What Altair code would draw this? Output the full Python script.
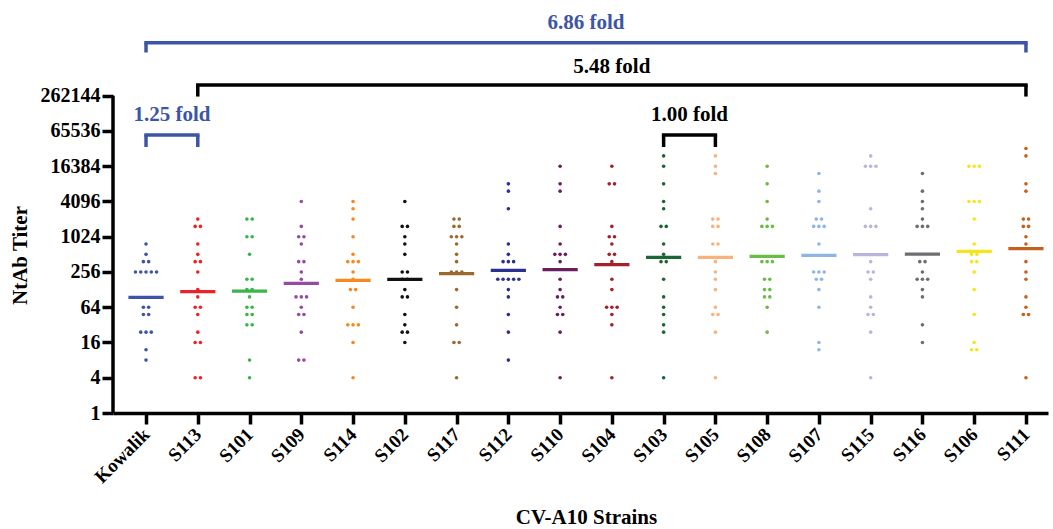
import math
import altair as alt
import pandas as pd

strains = ["Kowalik", "S113", "S101", "S109", "S114", "S102", "S117", "S112", "S110",
           "S104", "S103", "S105", "S108", "S107", "S115", "S116", "S106", "S111"]

colors = ["#3D55A6", "#EC2227", "#3BB54A", "#954B9F", "#F6891F", "#111111", "#9A6A2E",
          "#2B3090", "#6A1D5E", "#A4202A", "#1A6634", "#F7B27D", "#69BC45", "#8EB6E4",
          "#BDB4DC", "#6D6E71", "#F4E51C", "#C4611E"]

kowalik = [768, 512, 384, 384, 256, 256, 256, 256, 256, 64, 64, 48, 48, 24, 24, 24, 12, 8]
s113 = [2048, 1536, 1536, 768, 512, 384, 384, 256, 128, 96, 64, 64, 48, 24, 16, 16, 4, 4]
s101 = [2048, 2048, 1024, 1024, 512, 192, 192, 128, 128, 96, 64, 64, 48, 48, 32, 32, 8, 4]
s109 = [4096, 1536, 1024, 1024, 768, 384, 384, 256, 192, 96, 96, 96, 64, 48, 48, 24, 8, 8]
s114 = [4096, 3072, 2048, 1024, 512, 384, 384, 384, 256, 192, 128, 128, 64, 32, 32, 32, 16, 4]
s102 = [4096, 1536, 1536, 1024, 768, 512, 256, 256, 192, 192, 128, 96, 96, 48, 32, 24, 24, 16]
s117 = [2048, 2048, 1536, 1536, 1024, 1024, 1024, 768, 512, 384, 256, 256, 256, 128, 64, 32, 16, 16, 4]
s112 = [8192, 6144, 3072, 768, 512, 384, 384, 384, 192, 192, 192, 192, 192, 128, 96, 48, 24, 8]
s110 = [16384, 8192, 6144, 1536, 768, 512, 512, 512, 384, 192, 128, 96, 96, 64, 48, 48, 24, 4]
s104 = [16384, 8192, 8192, 1536, 1024, 1024, 768, 512, 512, 384, 192, 128, 64, 64, 64, 48, 32, 4]
s103 = [24576, 16384, 8192, 4096, 3072, 1536, 1536, 768, 512, 384, 384, 192, 96, 64, 48, 32, 24, 4]
s105 = [24576, 16384, 12288, 2048, 2048, 1536, 1536, 768, 768, 384, 256, 192, 128, 64, 48, 48, 24, 4]
s108 = [16384, 8192, 4096, 2048, 1536, 1536, 1536, 384, 384, 384, 192, 192, 128, 128, 96, 96, 64, 24]
s107 = [12288, 6144, 4096, 2048, 2048, 1536, 1536, 1536, 768, 256, 256, 256, 192, 192, 128, 64, 16, 12]
s115 = [24576, 16384, 16384, 16384, 3072, 1536, 1536, 1536, 384, 256, 256, 192, 96, 64, 48, 48, 24, 4]
s116 = [12288, 6144, 4096, 3072, 2048, 1536, 1536, 1536, 384, 384, 256, 192, 192, 192, 128, 96, 32, 16]
s106 = [16384, 16384, 16384, 4096, 4096, 4096, 2048, 768, 512, 512, 384, 384, 256, 128, 48, 16, 12, 12]
s111 = [32768, 24576, 8192, 6144, 2048, 2048, 1536, 1536, 1024, 768, 384, 256, 192, 96, 64, 48, 48, 4]

series = [kowalik, s113, s101, s109, s114, s102, s117, s112, s110,
          s104, s103, s105, s108, s107, s115, s116, s106, s111]

# geometric mean titers (horizontal lines)
gmt = [94, 118, 121, 163, 184, 191, 239, 273, 280, 341, 455, 455, 472, 491, 505, 518, 576, 640]

# comparisons: (from strain, to strain, label, colour, level in log2 units)
cmp_from = ["Kowalik", "S113", "Kowalik", "S103"]
cmp_to = ["S111", "S111", "S113", "S105"]
cmp_label = ["6.86 fold", "5.48 fold", "1.25 fold", "1.00 fold"]
cmp_color = ["#3D55A6", "#000000", "#3D55A6", "#000000"]
cmp_level = [21.0, 18.6, 15.77, 15.77]
cmp_leg = [0.55, 0.65, 0.68, 0.68]
cmp_text_gap = [1.12, 1.03, 1.12, 1.12]

FONT = "Liberation Serif"
STEP = 0.102

rows = []
for i, (name, vals) in enumerate(zip(strains, series)):
    counts = {}
    for v in vals:
        counts[v] = counts.get(v, 0) + 1
    seen = {}
    for v in vals:
        k = seen.get(v, 0)
        seen[v] = k + 1
        n = counts[v]
        rows.append({"strain": name, "x": i + (k - (n - 1) / 2) * STEP,
                     "ly": math.log2(v), "titer": v})
pts = pd.DataFrame(rows)

means = pd.DataFrame({"strain": strains,
                      "x": [i - 0.34 for i in range(len(strains))],
                      "x2": [i + 0.34 for i in range(len(strains))],
                      "ly": [math.log2(g) for g in gmt]})

idx = {s: i for i, s in enumerate(strains)}
br = pd.DataFrame({
    "a": [idx[s] for s in cmp_from],
    "b": [idx[s] for s in cmp_to],
    "label": cmp_label,
    "color": cmp_color,
    "top": cmp_level,
})
br["bottom"] = br["top"] - pd.Series(cmp_leg)
br["mid"] = (br["a"] + br["b"]) / 2
br["ty"] = br["top"] + pd.Series(cmp_text_gap)

xdom = [-0.638, 17.426]
ydom = [0, 22.86]
label_arr = "[" + ",".join("'%s'" % s for s in strains) + "]"

xscale = alt.Scale(domain=xdom, nice=False, zero=False)
yscale = alt.Scale(domain=ydom, nice=False, zero=False)

xaxis = alt.Axis(values=list(range(len(strains))), labelExpr=label_arr + "[datum.value]",
                 grid=False, domain=True, domainColor="black", domainWidth=3.5,
                 ticks=True, tickSize=11, tickWidth=3.5, tickColor="black",
                 labelAngle=315, labelAlign="right", labelBaseline="middle",
                 labelPadding=7, labelFont=FONT, labelFontSize=19, labelFontWeight="bold",
                 labelColor="black", labelOverlap=False,
                 title="CV-A10 Strains", titleFont=FONT, titleFontSize=21,
                 titleFontWeight="bold", titleColor="black", titleX=473, titleY=104,
                 titleBaseline="middle", titleAlign="center")
yaxis = alt.Axis(values=list(range(0, 19, 2)), labelExpr="format(pow(2, datum.value), 'd')",
                 grid=False, domain=False, ticks=True, tickSize=11, tickWidth=3.5,
                 tickColor="black", labelPadding=2, labelFont=FONT, labelFontSize=20,
                 labelFontWeight="bold", labelColor="black",
                 title="NtAb Titer", titleFont=FONT, titleFontSize=21, titleFontWeight="bold",
                 titleColor="black", titleAngle=270, titleX=-93, titleY=245,
                 titleAlign="center", titleBaseline="middle")

color_scale = alt.Scale(domain=strains, range=colors)

points = alt.Chart(pts).mark_circle(size=13, opacity=1).encode(
    x=alt.X("x:Q", scale=xscale, axis=xaxis),
    y=alt.Y("ly:Q", scale=yscale, axis=yaxis),
    color=alt.Color("strain:N", scale=color_scale, legend=None),
)

mean_lines = alt.Chart(means).mark_rule(strokeWidth=3.2).encode(
    x=alt.X("x:Q", scale=xscale),
    x2="x2:Q",
    y=alt.Y("ly:Q", scale=yscale),
    color=alt.Color("strain:N", scale=color_scale, legend=None),
)

yline = alt.Chart(pd.DataFrame({"lo": [0], "hi": [18]})).mark_rule(
    strokeWidth=3.5, color="black").encode(
    x=alt.value(0), y=alt.Y("lo:Q", scale=yscale), y2="hi:Q")

hbar = alt.Chart(br).mark_rule(strokeWidth=3.5, strokeCap="square").encode(
    x=alt.X("a:Q", scale=xscale), x2="b:Q",
    y=alt.Y("top:Q", scale=yscale),
    color=alt.Color("color:N", scale=None))
leg_a = alt.Chart(br).mark_rule(strokeWidth=3.5).encode(
    x=alt.X("a:Q", scale=xscale),
    y=alt.Y("top:Q", scale=yscale), y2="bottom:Q",
    color=alt.Color("color:N", scale=None))
leg_b = alt.Chart(br).mark_rule(strokeWidth=3.5).encode(
    x=alt.X("b:Q", scale=xscale),
    y=alt.Y("top:Q", scale=yscale), y2="bottom:Q",
    color=alt.Color("color:N", scale=None))
btext = alt.Chart(br).mark_text(font=FONT, fontSize=21, fontWeight="bold",
                                baseline="middle", align="center").encode(
    x=alt.X("mid:Q", scale=xscale),
    y=alt.Y("ty:Q", scale=yscale),
    text="label:N",
    color=alt.Color("color:N", scale=None))

chart = alt.layer(yline, mean_lines, points, hbar, leg_a, leg_b, btext).properties(
    width=935, height=403,
    padding={"left": 113, "top": 10, "right": 5, "bottom": 116},
    autosize="none",
    background="white",
).configure_view(stroke=None)

chart.save("out.html", embed_options={"renderer": "svg", "actions": False})
